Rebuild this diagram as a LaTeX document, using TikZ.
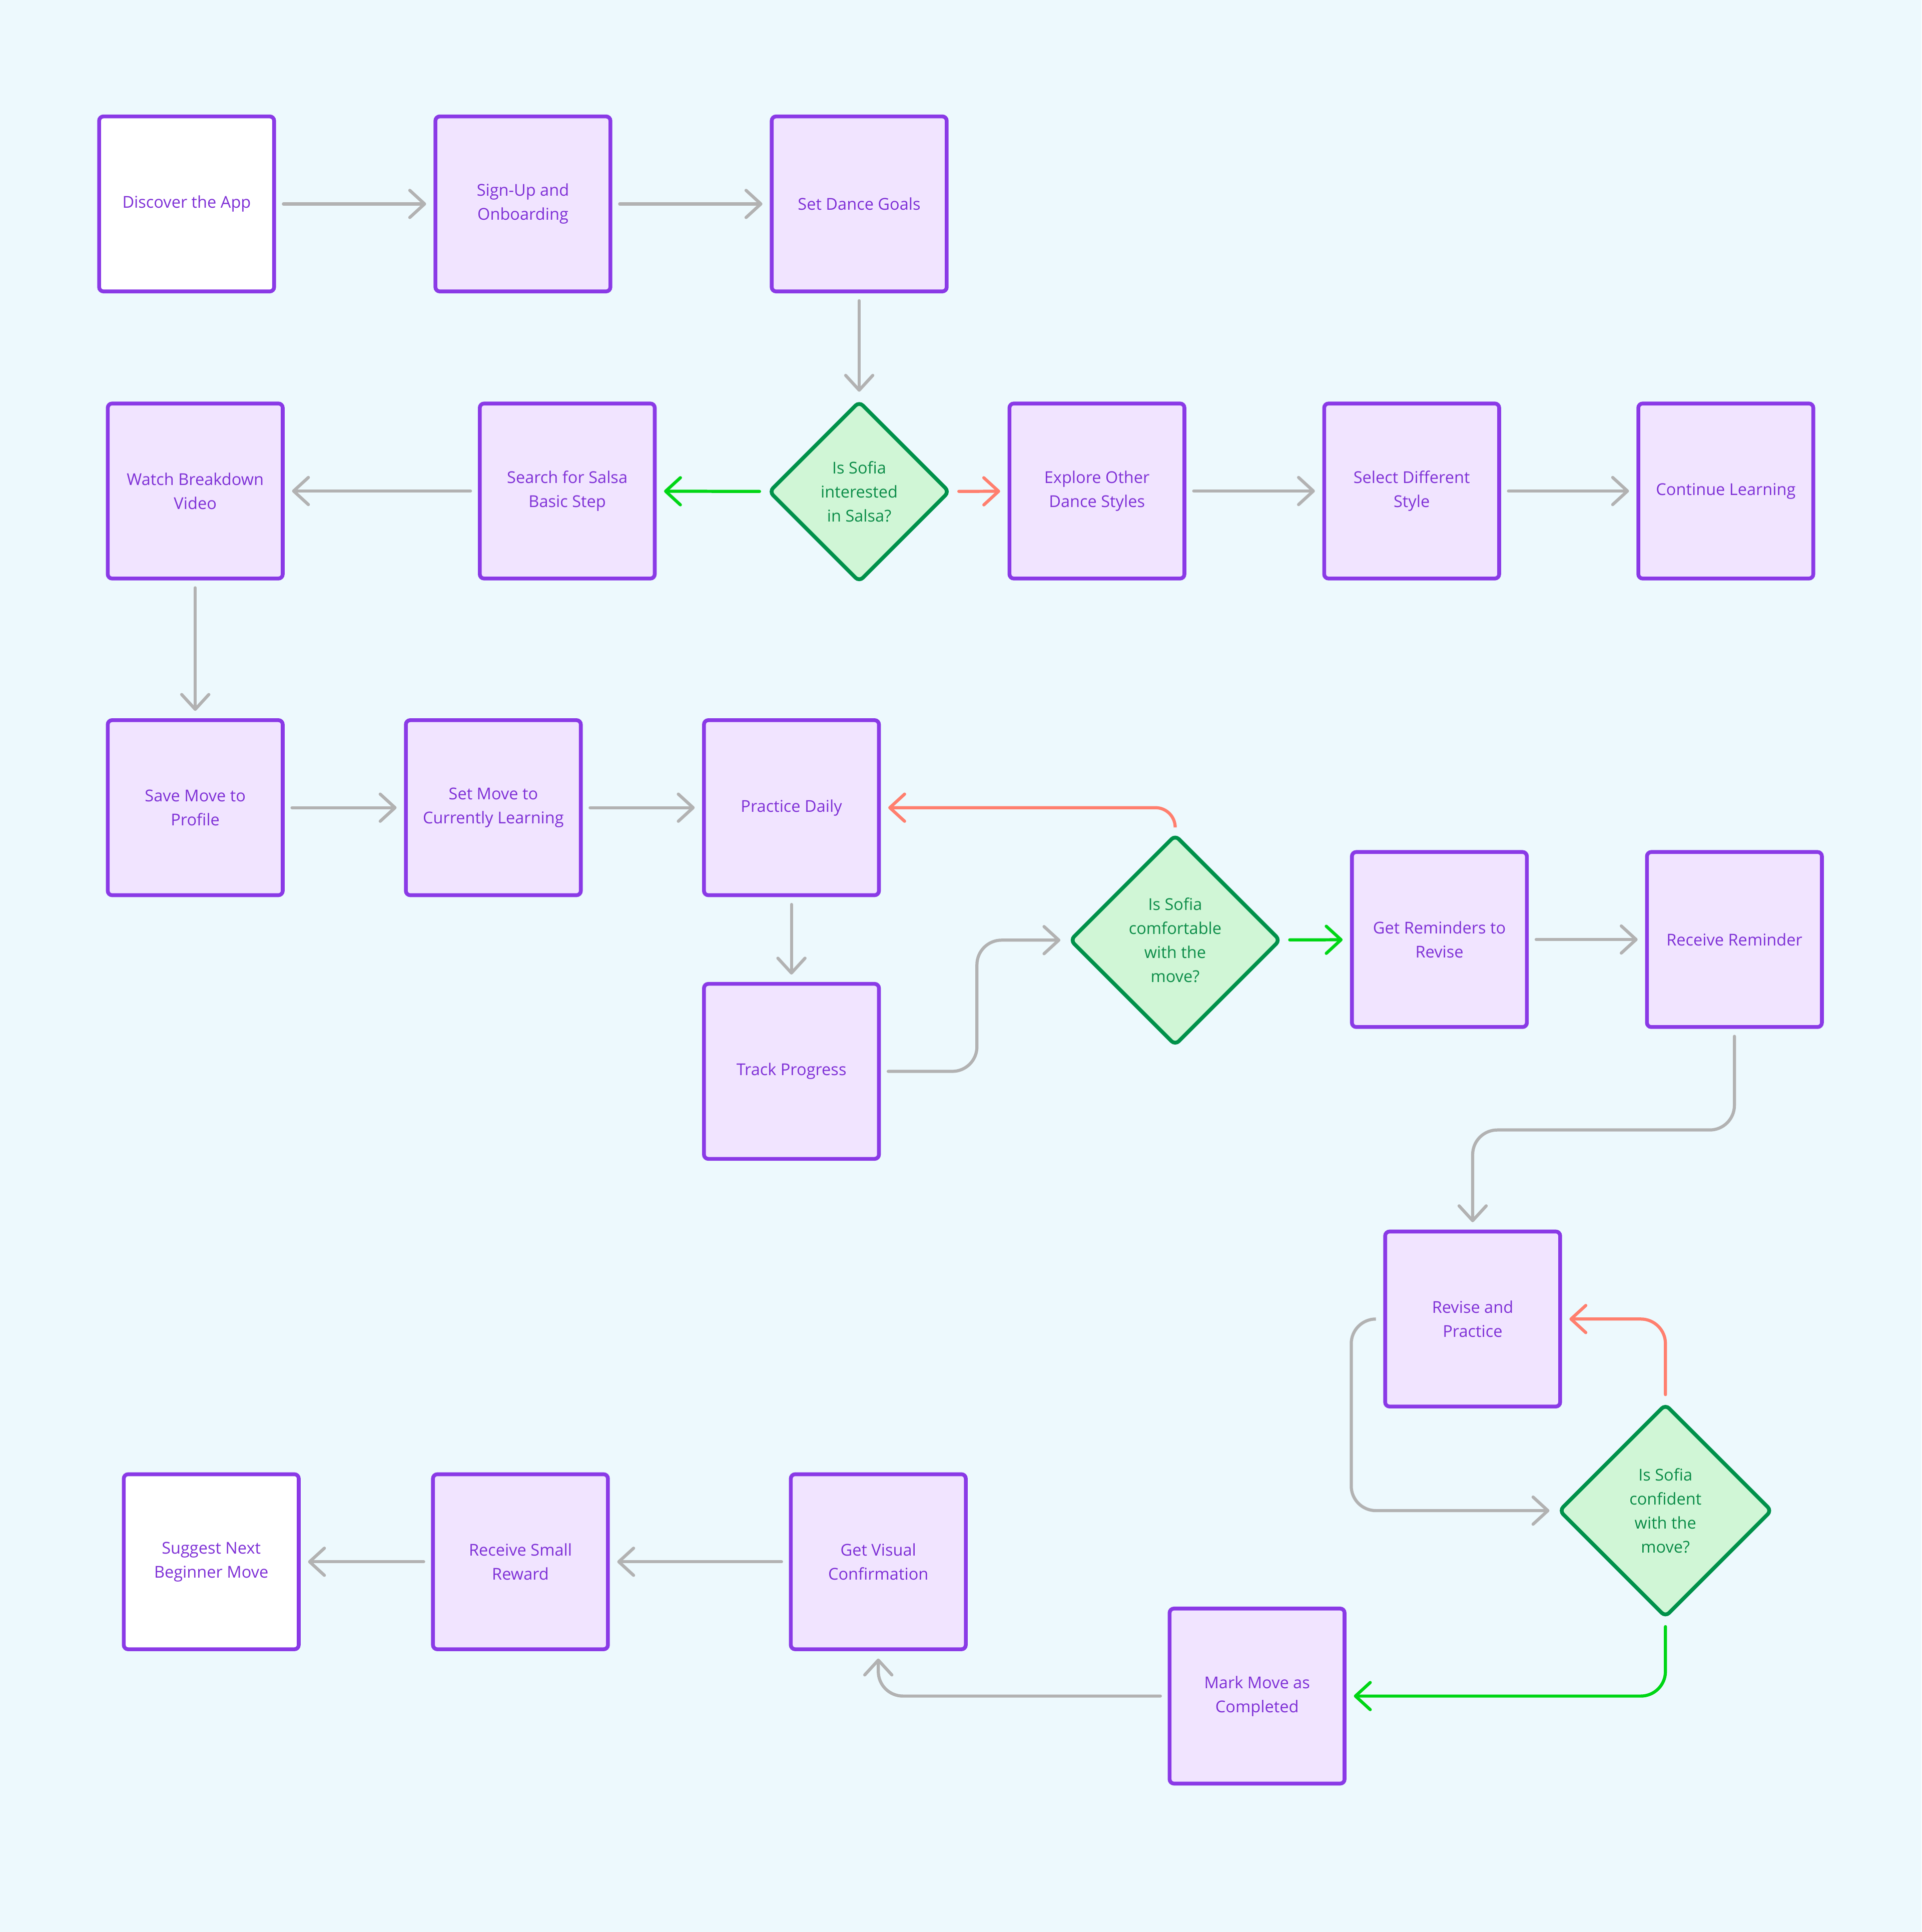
\documentclass[tikz,border=0pt]{standalone}
\usepackage{fontspec}
\setmainfont{Open Sans}
\usetikzlibrary{shapes.geometric,arrows.meta}
\definecolor{canvas}{HTML}{EDF9FD}
\definecolor{stepfill}{HTML}{F1E4FF}
\definecolor{stepline}{HTML}{8A3AE6}
\definecolor{steptext}{HTML}{7E2FD6}
\definecolor{choicefill}{HTML}{D0F6D6}
\definecolor{choiceline}{HTML}{00914A}
\definecolor{choicetext}{HTML}{0A8C47}
\definecolor{linkgray}{HTML}{B2B2B2}
\definecolor{golinkc}{HTML}{00D615}
\definecolor{nolinkc}{HTML}{FF7F6E}
\begin{document}
\begin{tikzpicture}[x=0.025cm,y=-0.025cm,
    every node/.style={font=\fontsize{9.4}{13.9}\selectfont,align=center},
    stepnode/.style={draw=stepline,fill=stepfill,text=steptext,line width=2.2pt,
      rounded corners=2.5pt,minimum width=3.55cm,minimum height=3.55cm,inner sep=0pt},
    endnode/.style={stepnode,fill=white},
    choice/.style={diamond,aspect=1,draw=choiceline,fill=choicefill,text=choicetext,
      line width=2.2pt,rounded corners=3pt,inner sep=0pt},
    link/.style={draw=linkgray,line width=1.8pt,line cap=round,
      -{Straight Barb[length=0.3cm,width=0.55cm,round]},
      shorten <=0.15cm,shorten >=0.15cm,rounded corners=0.5cm},
    golink/.style={link,draw=golinkc},
    nolink/.style={link,draw=nolinkc}]
  \fill[canvas] (0,0) rectangle (1560,1568);
  \path
    (151.5,165.5) node[endnode] (0){Discover the App}
    (424.5,165.5) node[stepnode] (1){Sign-Up and\\Onboarding}
    (697.5,165.5) node[stepnode] (2){Set Dance Goals}
    (697.5,399) node[choice,minimum size=3.675cm] (3){Is Sofia\\interested\\in Salsa?}
    (460.5,398.5) node[stepnode] (4){Search for Salsa\\Basic Step}
    (158.5,398.5) node[stepnode] (5){Watch Breakdown\\Video}
    (890.5,398.5) node[stepnode] (6){Explore Other\\Dance Styles}
    (1146,398.5) node[stepnode] (7){Select Different\\Style}
    (1401,398.5) node[stepnode] (8){Continue Learning}
    (158.5,655.5) node[stepnode] (9){Save Move to\\Profile}
    (400.5,655.5) node[stepnode] (10){Set Move to\\Currently Learning}
    (642.5,655.5) node[stepnode] (11){Practice Daily}
    (642.5,869.5) node[stepnode] (12){Track Progress}
    (954,763) node[choice,minimum size=4.28cm] (13){Is Sofia\\comfortable\\with the\\move?}
    (1168.5,762.5) node[stepnode] (14){Get Reminders to\\Revise}
    (1408,762.5) node[stepnode] (15){Receive Reminder}
    (1195.5,1070.5) node[stepnode] (16){Revise and\\Practice}
    (1352,1226) node[choice,minimum size=4.33cm] (17){Is Sofia\\confident\\with the\\move?}
    (1020.5,1376.5) node[stepnode] (18){Mark Move as\\Completed}
    (713,1267.5) node[stepnode] (19){Get Visual\\Confirmation}
    (422.5,1267.5) node[stepnode] (20){Receive Small\\Reward}
    (171.5,1267.5) node[endnode] (21){Suggest Next\\Beginner Move};
  \begin{scope}[link]
    \draw (0) to (1);
    \draw (1) to (2);
    \draw (2) to (3);
    \draw (4) to (5);
    \draw (6) to (7);
    \draw (7) to (8);
    \draw (5) to (9);
    \draw (9) to (10);
    \draw (10) to (11);
    \draw (11) to (12);
    \draw (12.east) -- ++(78,0) |- (13.west);
    \draw (14) to (15);
    \draw (15.south) -- ++(0,82) -| (16.north);
    \draw (16.west) -- ++(-26,0) |- (17.west);
    \draw (18.west) -| (19.south);
    \draw (19) to (20);
    \draw (20) to (21);
  \end{scope}
  \draw[golink] (3) to (4);
  \draw[nolink] (3) to (6);
  \draw[nolink,rounded corners=0.4cm] (13.north) |- (11.east);
  \draw[golink] (13) to (14);
  \draw[nolink] (17.north) |- (16.east);
  \draw[golink] (17.south) |- (18.east);
\end{tikzpicture}
\end{document}
